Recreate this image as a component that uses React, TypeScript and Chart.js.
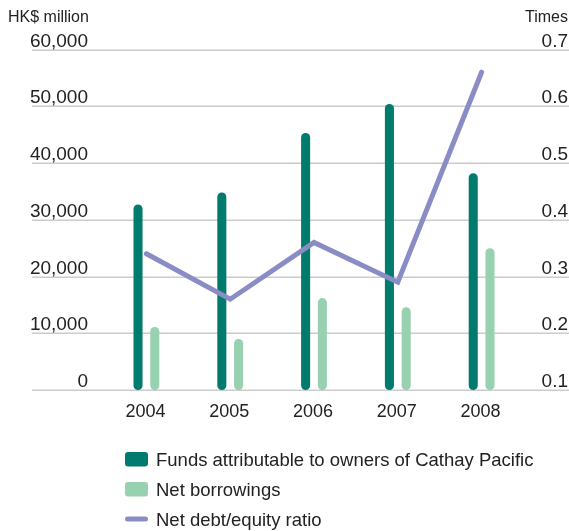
import React, { useEffect, useRef } from "react";
import { Chart, registerables } from "chart.js";

Chart.register(...registerables);

const years = ["2004", "2005", "2006", "2007", "2008"];
const fundsAttributable = [32700, 34800, 45300, 50400, 38200];
const netBorrowings = [11100, 9000, 16200, 14600, 25000];
const netDebtEquity = [0.34, 0.26, 0.36, 0.29, 0.66];
const leftTicks = [0, 10000, 20000, 30000, 40000, 50000, 60000];
const rightTicks = [0.1, 0.2, 0.3, 0.4, 0.5, 0.6, 0.7];
const leftTitle = "HK$ million";
const rightTitle = "Times";
const legendLabels = [
  "Funds attributable to owners of Cathay Pacific",
  "Net borrowings",
  "Net debt/equity ratio",
];

const DARK = "#007b6e";
const LIGHT = "#97d1b0";
const PURPLE = "#8a8cc5";
const GRID = "#cccccc";
const TEXT = "#222222";
const FONT = "'Liberation Sans', Arial, sans-serif";

function roundRect(ctx: CanvasRenderingContext2D, x: number, y: number, w: number, h: number, r: number) {
  ctx.beginPath();
  ctx.moveTo(x + r, y);
  ctx.lineTo(x + w - r, y);
  ctx.quadraticCurveTo(x + w, y, x + w, y + r);
  ctx.lineTo(x + w, y + h - r);
  ctx.quadraticCurveTo(x + w, y + h, x + w - r, y + h);
  ctx.lineTo(x + r, y + h);
  ctx.quadraticCurveTo(x, y + h, x, y + h - r);
  ctx.lineTo(x, y + r);
  ctx.quadraticCurveTo(x, y, x + r, y);
  ctx.closePath();
}

const decorPlugin = {
  id: "decor",
  beforeDatasetsDraw(chart: any) {
    const ctx: CanvasRenderingContext2D = chart.ctx;
    const y = chart.scales.y;
    const y1 = chart.scales.y1;
    ctx.save();
    ctx.strokeStyle = GRID;
    ctx.lineWidth = 1.5;
    leftTicks.forEach((v) => {
      const py = Math.round(y.getPixelForValue(v)) + 0.25;
      ctx.beginPath();
      ctx.moveTo(32, py);
      ctx.lineTo(569, py);
      ctx.stroke();
    });
    ctx.fillStyle = TEXT;
    ctx.font = `19px ${FONT}`;
    ctx.textAlign = "right";
    ctx.textBaseline = "alphabetic";
    leftTicks.forEach((v) => {
      const py = y.getPixelForValue(v);
      ctx.fillText(v.toLocaleString("en-US"), 88, py - 3);
    });
    rightTicks.forEach((v) => {
      const py = y1.getPixelForValue(v);
      ctx.fillText(v.toFixed(1), 568, py - 3);
    });
    ctx.font = `16px ${FONT}`;
    ctx.textAlign = "left";
    ctx.fillText(leftTitle, 8, 22);
    ctx.textAlign = "right";
    ctx.fillText(rightTitle, 568, 22);
    ctx.restore();
  },
  afterDraw(chart: any) {
    const ctx: CanvasRenderingContext2D = chart.ctx;
    const x = chart.scales.x;
    ctx.save();
    ctx.fillStyle = TEXT;
    ctx.font = `18px ${FONT}`;
    ctx.textAlign = "center";
    ctx.textBaseline = "alphabetic";
    years.forEach((yr, i) => {
      ctx.fillText(yr, x.getPixelForValue(i) - 1, 417);
    });
    // legend
    const colors = [DARK, LIGHT];
    ctx.font = `18.5px ${FONT}`;
    ctx.textAlign = "left";
    legendLabels.forEach((lab, i) => {
      const base = 466 + i * 30;
      if (i < 2) {
        ctx.fillStyle = colors[i];
        roundRect(ctx, 125, base - 14, 23, 14.5, 3);
        ctx.fill();
      } else {
        ctx.strokeStyle = PURPLE;
        ctx.lineWidth = 5;
        ctx.lineCap = "round";
        ctx.beginPath();
        ctx.moveTo(127.5, base - 7);
        ctx.lineTo(145.5, base - 7);
        ctx.stroke();
      }
      ctx.fillStyle = TEXT;
      ctx.fillText(lab, 156, base);
    });
    ctx.restore();
  },
};

export default function App() {
  const ref = useRef<HTMLCanvasElement | null>(null);
  useEffect(() => {
    if (!ref.current) return;
    const chart = new Chart(ref.current, {
      type: "bar",
      data: {
        labels: years,
        datasets: [
          {
            type: "line",
            label: legendLabels[2],
            data: netDebtEquity,
            yAxisID: "y1",
            borderColor: PURPLE,
            backgroundColor: PURPLE,
            borderWidth: 5,
            pointRadius: 0,
            tension: 0,
            borderCapStyle: "round",
            borderJoinStyle: "miter",
            clip: false,
            order: 0,
          } as any,
          {
            label: legendLabels[0],
            data: fundsAttributable,
            yAxisID: "y",
            backgroundColor: DARK,
            borderRadius: 4.5,
            borderSkipped: false,
            order: 1,
          } as any,
          {
            label: legendLabels[1],
            data: netBorrowings,
            yAxisID: "y",
            backgroundColor: LIGHT,
            borderRadius: 4.5,
            borderSkipped: false,
            order: 1,
          } as any,
        ],
      },
      options: {
        responsive: false,
        animation: false,
        datasets: { bar: { categoryPercentage: 0.4, barPercentage: 0.54 } } as any,
        layout: { padding: { left: 104.5, right: 45.5, top: 49.5, bottom: 141 } },
        plugins: { legend: { display: false }, tooltip: { enabled: false } },
        scales: {
          x: { display: false, offset: true, grid: { display: false } },
          y: { display: false, min: 0, max: 60000 },
          y1: { display: false, min: 0.1, max: 0.7, position: "right" },
        },
      },
      plugins: [decorPlugin],
    });
    return () => chart.destroy();
  }, []);
  return (
    <div style={{ position: "fixed", left: 0, top: 0, width: 569, height: 531, background: "#fff" }}>
      <canvas ref={ref} width={569} height={531} style={{ display: "block" }} />
    </div>
  );
}
